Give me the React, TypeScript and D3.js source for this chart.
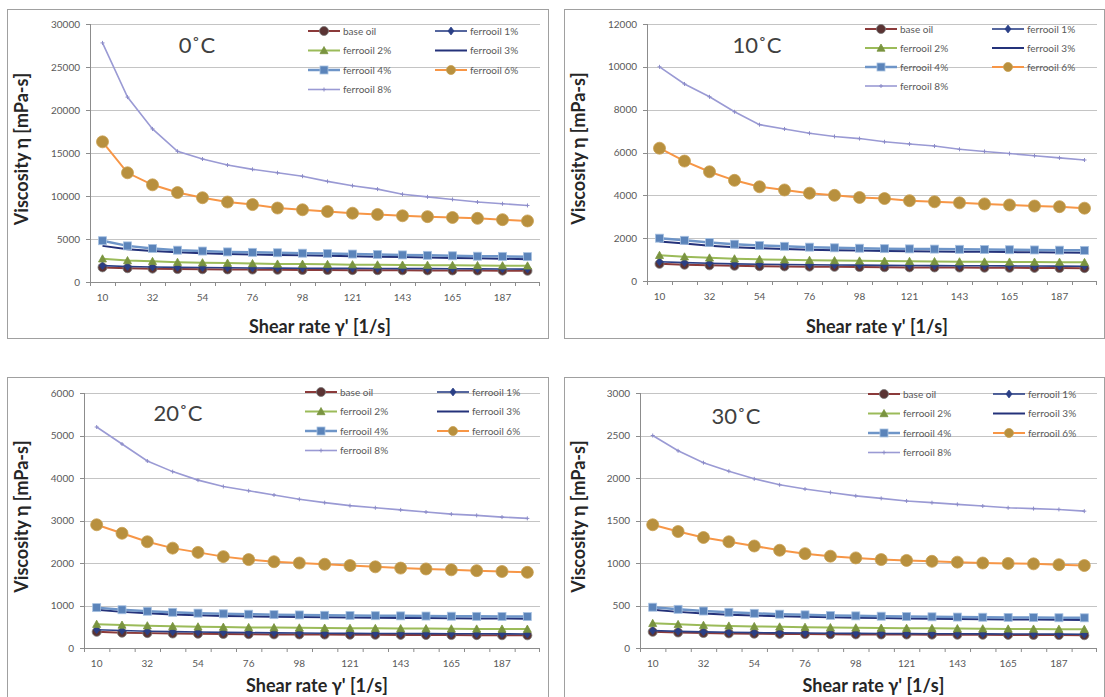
import React from "react";
import * as d3 from "d3";

// ---------- data ----------
const shearRate = [10, 21, 32, 43, 54, 65, 76, 87, 98, 110, 121, 132, 143, 154, 165, 176, 187, 198];
const seriesNames = ["base oil", "ferrooil 1%", "ferrooil 2%", "ferrooil 3%", "ferrooil 4%", "ferrooil 6%", "ferrooil 8%"];
const panelTitles = ["0˚C", "10˚C", "20˚C", "30˚C"];
const yMaxes = [30000, 12000, 6000, 3000];
const ySteps = [5000, 2000, 1000, 500];

// 0 °C
const t0Base = [1700, 1600, 1550, 1500, 1480, 1460, 1440, 1420, 1400, 1390, 1380, 1370, 1360, 1350, 1340, 1330, 1320, 1300];
const t0F1 = [1900, 1800, 1750, 1700, 1680, 1650, 1630, 1610, 1600, 1590, 1580, 1570, 1560, 1550, 1540, 1530, 1520, 1500];
const t0F2 = [2700, 2500, 2400, 2300, 2250, 2200, 2150, 2100, 2080, 2050, 2020, 2000, 1980, 1960, 1940, 1920, 1900, 1880];
const t0F3 = [4200, 3800, 3600, 3450, 3350, 3250, 3200, 3150, 3100, 3050, 3000, 2950, 2900, 2850, 2800, 2750, 2700, 2650];
const t0F4 = [4800, 4200, 3900, 3700, 3600, 3500, 3450, 3400, 3350, 3300, 3250, 3200, 3150, 3100, 3050, 3000, 2980, 2950];
const t0F6 = [16300, 12700, 11300, 10400, 9800, 9300, 9000, 8600, 8400, 8200, 8000, 7850, 7700, 7600, 7500, 7400, 7250, 7100];
const t0F8 = [27800, 21500, 17800, 15200, 14300, 13600, 13100, 12700, 12300, 11700, 11200, 10800, 10200, 9900, 9600, 9300, 9100, 8900];

// 10 °C
const t10Base = [800, 760, 730, 710, 690, 680, 670, 660, 650, 640, 635, 630, 625, 620, 615, 610, 605, 600];
const t10F1 = [900, 860, 830, 800, 780, 770, 760, 750, 740, 730, 725, 720, 715, 710, 705, 700, 695, 690];
const t10F2 = [1200, 1130, 1080, 1040, 1010, 990, 970, 955, 940, 930, 920, 910, 900, 895, 890, 885, 880, 870];
const t10F3 = [1850, 1750, 1650, 1580, 1530, 1490, 1460, 1440, 1420, 1400, 1390, 1380, 1370, 1360, 1350, 1340, 1330, 1320];
const t10F4 = [2000, 1900, 1800, 1720, 1660, 1620, 1580, 1550, 1530, 1510, 1500, 1490, 1480, 1470, 1460, 1450, 1440, 1430];
const t10F6 = [6200, 5600, 5100, 4700, 4400, 4250, 4100, 4000, 3900, 3850, 3750, 3700, 3650, 3600, 3550, 3500, 3470, 3400];
const t10F8 = [10000, 9200, 8600, 7900, 7300, 7100, 6900, 6750, 6650, 6500, 6400, 6300, 6150, 6050, 5950, 5850, 5750, 5650];

// 20 °C
const t20Base = [380, 360, 350, 340, 335, 330, 325, 320, 318, 315, 312, 310, 308, 306, 304, 302, 300, 298];
const t20F1 = [430, 410, 395, 385, 375, 368, 362, 356, 352, 348, 345, 342, 340, 338, 336, 334, 332, 330];
const t20F2 = [560, 540, 525, 510, 500, 492, 485, 480, 475, 470, 466, 462, 459, 456, 453, 450, 448, 445];
const t20F3 = [900, 850, 815, 790, 770, 755, 745, 735, 728, 722, 716, 712, 708, 704, 700, 697, 694, 690];
const t20F4 = [950, 900, 865, 840, 820, 805, 795, 785, 778, 770, 765, 760, 756, 752, 748, 745, 742, 740];
const t20F6 = [2900, 2700, 2500, 2350, 2250, 2150, 2080, 2030, 2000, 1970, 1940, 1910, 1880, 1860, 1840, 1820, 1800, 1780];
const t20F8 = [5200, 4800, 4400, 4150, 3950, 3800, 3700, 3600, 3500, 3420, 3350, 3300, 3250, 3200, 3150, 3120, 3080, 3050];

// 30 °C
const t30Base = [190, 182, 176, 172, 168, 166, 164, 162, 160, 159, 158, 157, 156, 155, 154, 153, 152, 150];
const t30F1 = [205, 196, 190, 185, 181, 178, 176, 174, 172, 170, 169, 168, 167, 166, 165, 164, 163, 162];
const t30F2 = [290, 278, 268, 260, 254, 249, 245, 241, 238, 235, 233, 231, 229, 227, 225, 224, 222, 220];
const t30F3 = [450, 425, 405, 392, 382, 374, 367, 361, 356, 352, 348, 345, 342, 339, 336, 334, 332, 330];
const t30F4 = [480, 455, 435, 420, 408, 398, 390, 383, 378, 374, 370, 367, 364, 362, 360, 358, 356, 355];
const t30F6 = [1450, 1370, 1300, 1250, 1200, 1150, 1110, 1080, 1060, 1040, 1030, 1020, 1010, 1000, 995, 990, 980, 970];
const t30F8 = [2500, 2320, 2180, 2080, 1990, 1920, 1870, 1830, 1790, 1760, 1730, 1710, 1690, 1670, 1650, 1640, 1630, 1610];

const panelData = [
  [t0Base, t0F1, t0F2, t0F3, t0F4, t0F6, t0F8],
  [t10Base, t10F1, t10F2, t10F3, t10F4, t10F6, t10F8],
  [t20Base, t20F1, t20F2, t20F3, t20F4, t20F6, t20F8],
  [t30Base, t30F1, t30F2, t30F3, t30F4, t30F6, t30F8],
];

// ---------- styles ----------
type Style = { line: string; width: number; marker: string; fill: string; stroke: string; r: number };
const styles: Style[] = [
  { line: "#8B3A3A", width: 2, marker: "circle", fill: "#5A3333", stroke: "#7A7A7A", r: 4.5 },
  { line: "#2A3F86", width: 1.6, marker: "diamond", fill: "#2A3F86", stroke: "#2A3F86", r: 3 },
  { line: "#9BBB59", width: 2, marker: "triangle", fill: "#7A9440", stroke: "#7A9440", r: 4 },
  { line: "#24327A", width: 2, marker: "none", fill: "none", stroke: "none", r: 0 },
  { line: "#6E95C8", width: 2.5, marker: "square", fill: "#5B84BA", stroke: "#A8C2E2", r: 4 },
  { line: "#F79646", width: 2, marker: "circle", fill: "#B8903E", stroke: "#C9A050", r: 6 },
  { line: "#9A9AD4", width: 1.6, marker: "cross", fill: "none", stroke: "#8C8CC8", r: 2 },
];

type Geo = {
  box: [number, number, number, number];
  plot: { l: number; r: number; t: number; b: number };
  title: [number, number];
  legend: { c1: number; c2: number; y0: number; dy: number };
  xTitleY: number;
};
const geos: Geo[] = [
  { box: [7, 9, 541, 329], plot: { l: 90, r: 540, t: 24, b: 282 }, title: [197, 45], legend: { c1: 308, c2: 435, y0: 31, dy: 19.5 }, xTitleY: 327 },
  { box: [564, 9, 540, 329], plot: { l: 647, r: 1097, t: 24, b: 281 }, title: [757, 45], legend: { c1: 865, c2: 992, y0: 29, dy: 19 }, xTitleY: 327 },
  { box: [7, 377, 541, 330], plot: { l: 84, r: 540, t: 393, b: 648 }, title: [178, 413], legend: { c1: 305, c2: 437, y0: 392, dy: 19.5 }, xTitleY: 686 },
  { box: [564, 377, 540, 330], plot: { l: 640, r: 1097, t: 393, b: 648 }, title: [736, 416], legend: { c1: 868, c2: 993, y0: 394, dy: 19.5 }, xTitleY: 686 },
];

const FONT = "Lato, 'Open Sans', 'Liberation Sans', sans-serif";

function Marker({ kind, x, y, s }: { kind: string; x: number; y: number; s: Style }) {
  const r = s.r;
  if (kind === "circle") return <circle cx={x} cy={y} r={r} fill={s.fill} stroke={s.stroke} strokeWidth={0.8} />;
  if (kind === "square") return <rect x={x - r} y={y - r} width={2 * r} height={2 * r} fill={s.fill} stroke={s.stroke} strokeWidth={0.8} />;
  if (kind === "diamond")
    return <path d={`M${x},${y - r * 1.3}L${x + r},${y}L${x},${y + r * 1.3}L${x - r},${y}Z`} fill={s.fill} stroke={s.stroke} strokeWidth={0.8} />;
  if (kind === "triangle")
    return <path d={`M${x},${y - r}L${x + r},${y + r * 0.8}L${x - r},${y + r * 0.8}Z`} fill={s.fill} stroke={s.stroke} strokeWidth={0.8} />;
  if (kind === "cross")
    return <path d={`M${x - r},${y}L${x + r},${y}M${x},${y - r}L${x},${y + r}`} stroke={s.stroke} strokeWidth={1} />;
  return null;
}

function Panel({ idx }: { idx: number }) {
  const g = geos[idx];
  const data = panelData[idx];
  const x = d3.scaleBand<number>().domain(shearRate).range([g.plot.l, g.plot.r]);
  const y = d3.scaleLinear().domain([0, yMaxes[idx]]).range([g.plot.b, g.plot.t]);
  const yTicks = d3.range(0, yMaxes[idx] + 1, ySteps[idx]);
  const cx = (v: number) => (x(v) as number) + x.bandwidth() / 2;
  const line = d3
    .line<number>()
    .x((_, i) => cx(shearRate[i]))
    .y((d) => y(d));
  const [bx, by, bw, bh] = g.box;
  const legendItems = [0, 1, 2, 3, 4, 5, 6].map((i) => ({
    i,
    col: i % 2,
    row: Math.floor(i / 2),
  }));
  const yTitleY = (g.plot.t + g.plot.b) / 2 - 4;
  return (
    <g>
      <rect x={bx + 0.5} y={by + 0.5} width={bw} height={bh} fill="#fff" stroke="#A0A0A0" strokeWidth={1} />
      {/* gridlines */}
      {yTicks.map((t) => (
        <line key={t} x1={g.plot.l} x2={g.plot.r} y1={Math.round(y(t)) + 0.5} y2={Math.round(y(t)) + 0.5} stroke="#C4C4C4" strokeWidth={1.2} />
      ))}
      {/* y axis */}
      <line x1={g.plot.l + 0.5} x2={g.plot.l + 0.5} y1={g.plot.t} y2={g.plot.b} stroke="#8C8C8C" />
      {yTicks.map((t) => (
        <line key={"yt" + t} x1={g.plot.l - 4} x2={g.plot.l} y1={Math.round(y(t)) + 0.5} y2={Math.round(y(t)) + 0.5} stroke="#8C8C8C" />
      ))}
      {yTicks.map((t) => (
        <text key={"yl" + t} x={g.plot.l - 10} y={y(t)} dy="0.35em" textAnchor="end" fontSize={10} fill="#595959" fontFamily={FONT}>
          {d3.format("d")(t)}
        </text>
      ))}
      {/* x axis */}
      <line x1={g.plot.l} x2={g.plot.r} y1={g.plot.b + 0.5} y2={g.plot.b + 0.5} stroke="#8C8C8C" />
      {shearRate.map((s) => (
        <line key={"xt" + s} x1={x(s)! + 0.5} x2={x(s)! + 0.5} y1={g.plot.b} y2={g.plot.b + 4} stroke="#8C8C8C" />
      ))}
      <line x1={g.plot.r - 0.5} x2={g.plot.r - 0.5} y1={g.plot.b} y2={g.plot.b + 4} stroke="#8C8C8C" />
      {shearRate.map((s, i) =>
        i % 2 === 0 ? (
          <text key={"xl" + s} x={cx(s)} y={g.plot.b + 19} textAnchor="middle" fontSize={10} fill="#595959" fontFamily={FONT}>
            {s}
          </text>
        ) : null
      )}
      {/* series */}
      {data.map((vals, si) => {
        const s = styles[si];
        return (
          <g key={"s" + si}>
            <path d={line(vals) || ""} fill="none" stroke={s.line} strokeWidth={s.width} />
            {s.marker !== "none" && vals.map((v, i) => <Marker key={i} kind={s.marker} x={cx(shearRate[i])} y={y(v)} s={s} />)}
          </g>
        );
      })}
      {/* title */}
      <text x={g.title[0]} y={g.title[1]} dy="0.35em" textAnchor="middle" fontSize={22} fill="#404040" fontFamily={FONT}>
        {panelTitles[idx]}
      </text>
      {/* legend */}
      {legendItems.map(({ i, col, row }) => {
        const lx = col === 0 ? g.legend.c1 : g.legend.c2;
        const ly = g.legend.y0 + row * g.legend.dy;
        const s = styles[i];
        return (
          <g key={"lg" + i}>
            <line x1={lx} x2={lx + 32} y1={ly} y2={ly} stroke={s.line} strokeWidth={s.width} />
            {s.marker !== "none" && <Marker kind={s.marker} x={lx + 16} y={ly} s={{ ...s, r: Math.min(s.r, 4.5) }} />}
            <text x={lx + 35} y={ly} dy="0.35em" fontSize={10} fill="#595959" fontFamily={FONT}>
              {seriesNames[i]}
            </text>
          </g>
        );
      })}
      {/* axis titles */}
      <text
        transform={`translate(${bx + 15},${yTitleY}) rotate(-90)`}
        textAnchor="middle"
        dy="0.35em"
        fontSize={18}
        fontWeight="bold"
        fill="#262626"
        fontFamily={FONT}
      >
        Viscosity η [mPa-s]
      </text>
      <text x={(g.plot.l + g.plot.r) / 2 + 5} y={g.xTitleY} dy="0.35em" textAnchor="middle" fontSize={18} fontWeight="bold" fill="#262626" fontFamily={FONT}>
        Shear rate γ' [1/s]
      </text>
    </g>
  );
}

export default function App() {
  return (
    <svg width={1105} height={697} style={{ position: "absolute", left: 0, top: 0, background: "#fff" }}>
      <rect width={1105} height={697} fill="#fff" />
      {[0, 1, 2, 3].map((i) => (
        <Panel key={i} idx={i} />
      ))}
    </svg>
  );
}
